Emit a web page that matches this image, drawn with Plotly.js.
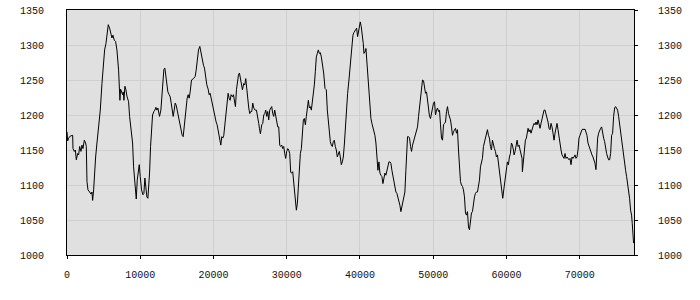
<!DOCTYPE html>
<html>
<head>
<meta charset="utf-8">
<script src="https://cdn.plot.ly/plotly-3.0.1.min.js"></script>
<style>html,body{margin:0;padding:0;background:#fff}#chart{width:700px;height:300px}</style>
</head>
<body>
<div id="chart"></div>
<script>
var xs = [0,91,227,455,773,818,1000,1136,1273,1455,1591,1727,1909,2045,2182,2364,2545,2636,2727,2864,3091,3273,3409,3500,3636,3773,3909,4091,4318,4545,4773,5000,5136,5318,5455,5636,5818,6000,6136,6273,6455,6636,6818,7045,7136,7227,7318,7455,7591,7682,7773,7909,8045,8182,8409,8545,8773,8955,9091,9273,9409,9455,9591,9727,9864,10000,10182,10364,10500,10636,10773,10909,11045,11182,11273,11409,11545,11682,11864,12000,12136,12273,12409,12545,12636,12818,12955,13091,13227,13364,13500,13636,13773,13955,14091,14227,14364,14500,14636,14773,14909,15045,15182,15364,15545,15727,15864,16000,16136,16273,16409,16545,16682,16818,17000,17273,17500,17636,17773,17955,18136,18273,18455,18636,18773,18909,19091,19273,19409,
19545,19682,19864,20045,20227,20364,20500,20591,20727,20864,21000,21136,21273,21409,21591,21727,21864,22000,22136,22273,22409,22591,22727,22864,23000,23136,23273,23409,23545,23682,23818,23955,24136,24273,24409,24545,24682,24818,24955,25091,25227,25364,25500,25682,25864,26045,26182,26273,26409,26591,26727,26864,27000,27136,27273,27409,27545,27682,27818,27955,28091,28227,28364,28500,28636,28773,28909,29045,29182,29318,29455,29591,29727,29864,30000,30136,30273,30409,30545,30682,30818,30955,31091,31227,31318,31455,31591,31727,31864,32000,32136,32273,32409,32545,32682,32818,32955,33091,33227,33364,33500,33636,33773,33909,34045,34182,34318,34455,34591,34727,34864,35045,35227,35409,35545,35682,35818,35955,36091,36227,36364,36500,36636,36773,36909,37045,37182,37318,37455,37591,37727,37864,38000,38136,38318,38500,38682,38864,39045,39182,
39409,39545,39682,39818,39955,40045,40182,40318,40455,40545,40682,40818,40955,41091,41227,41364,41500,41636,41773,41909,42045,42182,42318,42455,42591,42727,42864,43000,43136,43273,43409,43545,43682,43818,43955,44091,44227,44364,44500,44636,44773,44909,45045,45182,45318,45455,45591,45727,45864,46000,46136,46273,46409,46500,46636,46773,46909,47045,47182,47318,47455,47591,47727,47864,48000,48136,48273,48409,48545,48682,48818,48955,49091,49227,49364,49500,49636,49773,49909,50045,50182,50318,50455,50591,50727,50864,51000,51136,51273,51409,51545,51682,51818,51955,52091,52227,52364,52500,52636,52773,52909,53045,53182,53318,53455,53591,53727,53864,54000,54136,54273,54409,54545,54682,54818,54955,55091,55227,55364,55500,55636,55773,55909,56045,56182,56318,56455,56591,56727,56864,57000,57136,57273,57409,57545,57682,57818,57955,58091,58227,58364,58500,58636,58773,58909,59045,
59227,59364,59500,59636,59773,59909,60045,60136,60273,60409,60545,60682,60818,60955,61045,61182,61318,61455,61591,61727,61864,62000,62136,62182,62318,62455,62591,62727,62864,62955,63091,63227,63364,63500,63636,63773,63909,64045,64182,64318,64455,64591,64727,64864,65000,65136,65273,65409,65545,65682,65818,65955,66091,66227,66364,66500,66636,66773,66909,67045,67182,67318,67455,67591,67727,67864,68000,68136,68273,68409,68545,68682,68818,68955,69091,69227,69364,69500,69636,69773,69909,70045,70182,70318,70455,70591,70727,70864,71000,71136,71273,71409,71545,71682,71818,71955,72091,72227,72318,72455,72591,72727,72864,73000,73136,73273,73409,73545,73682,73818,73955,74091,74227,74364,74500,74636,74773,74909,75045,75182,75318,75455,75591,75727,75864,76000,76136,76273,76409,76545,76682,76818,76955,77091,77182,77273,77364];

var ys = [1176,1163,1167,1170,1171,1152,1148,1150,1136,1145,1143,1155,1148,1157,1152,1164,1160,1155,1105,1093,1090,1087,1090,1078,1093,1121,1140,1160,1183,1207,1245,1279,1293,1302,1317,1329,1324,1317,1310,1314,1307,1305,1293,1264,1236,1221,1237,1233,1229,1233,1221,1241,1236,1227,1219,1198,1174,1160,1126,1102,1093,1080,1107,1121,1129,1112,1093,1086,1088,1110,1098,1083,1081,1102,1117,1155,1183,1200,1205,1207,1211,1207,1210,1205,1198,1207,1231,1245,1265,1267,1255,1236,1233,1229,1226,1217,1207,1198,1207,1217,1214,1207,1198,1193,1181,1171,1169,1183,1198,1212,1224,1229,1224,1233,1250,1252,1255,1264,1281,1293,1298,1290,1279,1271,1267,1255,1243,1237,1229,
1231,1224,1212,1207,1198,1190,1186,1181,1171,1162,1157,1169,1167,1171,1193,1210,1224,1231,1224,1221,1229,1226,1229,1221,1212,1236,1252,1257,1260,1252,1243,1236,1245,1243,1252,1236,1221,1210,1202,1205,1205,1217,1210,1207,1207,1198,1188,1181,1173,1186,1188,1200,1202,1207,1198,1205,1193,1207,1210,1212,1202,1198,1207,1200,1193,1183,1183,1157,1155,1157,1152,1155,1145,1138,1148,1152,1150,1145,1118,1117,1119,1102,1088,1076,1064,1074,1098,1131,1145,1152,1174,1193,1195,1186,1198,1207,1221,1210,1212,1207,1217,1231,1243,1262,1283,1288,1293,1288,1289,1283,1274,1260,1238,1236,1207,1188,1169,1162,1157,1155,1162,1164,1155,1150,1140,1145,1148,1140,1129,1133,1140,1157,1183,1207,1231,1250,1274,1302,1314,1318,
1321,1324,1312,1319,1329,1333,1326,1317,1302,1288,1290,1295,1274,1250,1229,1212,1195,1188,1183,1176,1171,1160,1140,1121,1133,1117,1114,1112,1102,1112,1117,1114,1121,1131,1133,1133,1131,1121,1112,1102,1098,1090,1088,1083,1076,1071,1062,1069,1074,1083,1090,1121,1150,1169,1169,1167,1155,1148,1157,1162,1167,1171,1179,1183,1198,1210,1224,1240,1250,1249,1240,1231,1233,1221,1207,1198,1195,1202,1212,1217,1219,1200,1207,1210,1205,1207,1186,1167,1164,1186,1188,1190,1205,1212,1202,1198,1193,1183,1171,1176,1179,1181,1174,1179,1150,1121,1105,1100,1098,1093,1083,1060,1057,1062,1040,1036,1050,1060,1062,1074,1083,1088,1090,1090,1098,1107,1126,1131,1138,1155,1162,1169,1176,1179,1171,1167,1155,1150,1164,1155,1152,1148,1140,1143,1131,1119,
1105,1090,1081,1093,1102,1117,1126,1133,1129,1140,1145,1160,1157,1150,1143,1148,1160,1164,1155,1157,1150,1145,1138,1119,1136,1150,1164,1167,1176,1181,1176,1179,1174,1181,1184,1188,1186,1190,1186,1193,1188,1181,1188,1195,1200,1207,1207,1202,1195,1190,1181,1179,1188,1183,1174,1164,1174,1183,1188,1179,1167,1157,1150,1143,1140,1138,1145,1138,1140,1138,1136,1138,1129,1140,1138,1140,1143,1138,1140,1150,1167,1171,1176,1179,1180,1179,1180,1176,1171,1160,1155,1150,1145,1143,1140,1136,1131,1122,1150,1167,1174,1179,1181,1183,1171,1167,1162,1152,1145,1140,1136,1136,1145,1171,1174,1198,1210,1212,1208,1207,1198,1186,1174,1162,1148,1143,1126,1121,1112,1102,1098,1081,1064,1057,1045,1031,1017];

var xRange = [0, 77420];
var yRange = [1000, 1350];
var xTicks = [0, 10000, 20000, 30000, 40000, 50000, 60000, 70000];
var yTicks = [1000, 1050, 1100, 1150, 1200, 1250, 1300, 1350];

var tickFont = {family: 'Liberation Mono, DejaVu Sans Mono, monospace', size: 10, color: '#111'};

var trace = {
  x: xs, y: ys, type: 'scatter', mode: 'lines',
  line: {color: '#000', width: 1},
  hoverinfo: 'skip', showlegend: false
};
var trace2 = {
  x: [xs[0]], y: [ys[0]], yaxis: 'y2', type: 'scatter', mode: 'lines',
  line: {color: 'rgba(0,0,0,0)'}, hoverinfo: 'skip', showlegend: false
};

var layout = {
  width: 700, height: 300,
  margin: {l: 67, r: 66, t: 10, b: 45, pad: 0},
  paper_bgcolor: '#ffffff',
  plot_bgcolor: '#e0e0e0',
  showlegend: false,
  xaxis: {
    range: xRange, tickvals: xTicks, ticktext: xTicks.map(String),
    showgrid: true, gridcolor: '#cfcfcf', gridwidth: 1,
    zeroline: false, showline: true, linecolor: '#000', linewidth: 1, mirror: true,
    ticks: 'outside', ticklen: 3, tickcolor: '#000', tickwidth: 1,
    ticklabelstandoff: 7,
    tickfont: tickFont
  },
  yaxis: {
    range: yRange, tickvals: yTicks, ticktext: yTicks.map(String),
    showgrid: true, gridcolor: '#cfcfcf', gridwidth: 1,
    zeroline: false, showline: true, linecolor: '#000', linewidth: 1,
    ticks: '', ticklabelstandoff: 20,
    tickfont: tickFont
  },
  yaxis2: {
    range: yRange, tickvals: yTicks, ticktext: yTicks.map(String),
    overlaying: 'y', side: 'right',
    showgrid: false, zeroline: false, showline: true, linecolor: '#000', linewidth: 1,
    ticks: 'outside', ticklen: 3, tickcolor: '#000', tickwidth: 1,
    ticklabelstandoff: 18,
    tickfont: tickFont
  }
};

Plotly.newPlot('chart', [trace, trace2], layout, {staticPlot: true, displayModeBar: false});
</script>
</body>
</html>
